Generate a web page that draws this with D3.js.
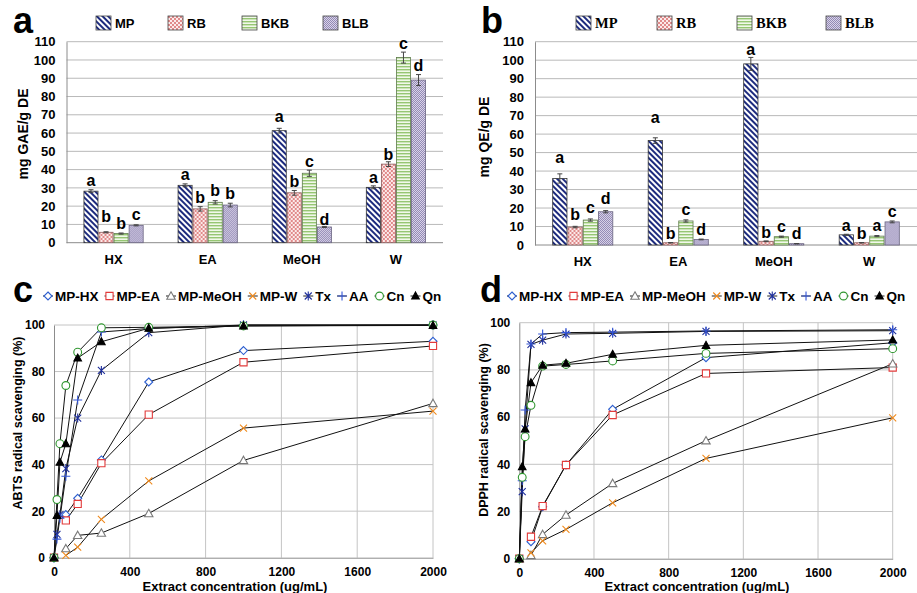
<!DOCTYPE html>
<html>
<head>
<meta charset="utf-8">
<script src="https://cdn.jsdelivr.net/npm/d3@7"></script>
<style>
  body { margin: 0; background: #fff; }
  svg { display: block; font-family: "Liberation Sans", Arial, sans-serif; }
  .tick text { font-weight: bold; }
</style>
</head>
<body>
<svg id="fig" width="917" height="593"></svg>
<script>
// ---- bar chart data (a: total phenolics, b: total flavonoids) ----
const solvents = ["HX", "EA", "MeOH", "W"];
const plants = ["MP", "RB", "BKB", "BLB"];

const gaeMP  = [28.2, 31.4, 61.3, 30.3];
const gaeRB  = [5.7, 18.5, 27.3, 43.0];
const gaeBKB = [5.0, 22.1, 38.0, 101.3];
const gaeBLB = [9.5, 20.6, 8.6, 89.0];
const gaeErrMP  = [0.8, 0.8, 1.3, 0.8];
const gaeErrRB  = [0.3, 1.2, 1.3, 1.3];
const gaeErrBKB = [0.3, 0.9, 1.7, 3.0];
const gaeErrBLB = [0.3, 1.0, 0.3, 3.0];
const gaeLetters = [["a","b","b","c"], ["a","b","b","b"], ["a","b","c","d"], ["a","b","c","d"]];
const gaeLetterAt = [[31.0, 11.5, 7.3, 12.4], [34.3, 21.5, 25.5, 23.7], [66.2, 30.7, 41.6, 9.7], [32.5, 45.3, 105.8, 94.2]];

const qeMP  = [36.0, 56.5, 98.0, 5.5];
const qeRB  = [9.7, 1.2, 2.0, 1.2];
const qeBKB = [13.5, 13.0, 4.5, 4.8];
const qeBLB = [18.0, 3.0, 0.7, 12.5];
const qeErrMP  = [2.5, 1.5, 3.5, 0.3];
const qeErrRB  = [0.4, 0.1, 0.2, 0.1];
const qeErrBKB = [0.6, 0.6, 0.3, 0.3];
const qeErrBLB = [0.6, 0.2, 0.1, 0.5];
const qeLetters = [["a","b","c","d"], ["a","b","c","d"], ["a","b","c","d"], ["a","b","a","c"]];
const qeLetterAt = [[44.2, 13.5, 17.5, 22.2], [66.2, 3.1, 16.2, 5.4], [102.8, 3.6, 7.2, 3.1], [7.6, 3.1, 7.6, 15.0]];

const barTicks = [0, 10, 20, 30, 40, 50, 60, 70, 80, 90, 100, 110];

// ---- line chart data (c: ABTS, d: DPPH) ----
const conc = [0, 15.625, 31.25, 62.5, 125, 250, 500, 1000, 2000];
const lineNames = ["MP-HX", "MP-EA", "MP-MeOH", "MP-W", "Tx", "AA", "Cn", "Qn"];

const abtsHX   = [0, null, null, 18.5, 25.5, 42.0, 75.5, 89.0, 93.0];
const abtsEA   = [0, null, null, 16.0, 23.1, 40.6, 61.5, 84.0, 91.0];
const abtsMeOH = [0, null, null, 3.9, 9.6, 10.6, 19.0, 41.8, 66.3];
const abtsW    = [0, null, null, 1.0, 4.5, 16.5, 33.0, 55.7, 63.0];
const abtsTx   = [0, 10.0, 18.5, 38.3, 60.0, 80.5, 96.7, 100, 100];
const abtsAA   = [0, 8.0, 17.0, 35.0, 67.8, 97.0, 98.5, 100, 100];
const abtsCn   = [0, 25.0, 49.0, 74.0, 88.3, 98.8, 99.0, 99.6, 100];
const abtsQn   = [0, 18.2, 41.0, 49.0, 85.8, 92.8, 98.6, 99.6, 99.8];

const dpphHX   = [0, null, null, 7.2, 22.0, 39.7, 63.3, 85.2, 91.5];
const dpphEA   = [0, null, null, 9.3, 22.3, 39.7, 60.9, 78.5, 81.0];
const dpphMeOH = [0, null, null, 1.4, 10.3, 18.5, 31.9, 50.0, 82.6];
const dpphW    = [0, null, null, 2.5, 7.6, 12.4, 23.7, 42.5, 59.7];
const dpphTx   = [0, 28.4, 55.0, 90.8, 92.6, 95.2, 95.5, 96.3, 96.6];
const dpphAA   = [0, 33.0, 63.0, 91.0, 95.2, 95.8, 96.0, 96.5, 97.0];
const dpphCn   = [0, 34.5, 51.7, 65.0, 81.6, 82.3, 83.8, 87.0, 89.0];
const dpphQn   = [0, 39.0, 55.0, 74.6, 82.0, 82.8, 86.6, 90.4, 92.7];

const xTicks = [0, 400, 800, 1200, 1600, 2000];
const yTicks = [0, 20, 40, 60, 80, 100];

const svg = d3.select("#fig");
svg.append("rect").attr("width", 917).attr("height", 593).attr("fill", "#fff");

// patterns for the bar fills
const defs = svg.append("defs");
const pMP = defs.append("pattern").attr("id", "pMP").attr("patternUnits", "userSpaceOnUse")
  .attr("width", 4).attr("height", 4).attr("patternTransform", "rotate(-45)");
pMP.append("rect").attr("width", 4).attr("height", 4).attr("fill", "#fff");
pMP.append("rect").attr("width", 2).attr("height", 4).attr("fill", "#1d2b7e");

const pRB = defs.append("pattern").attr("id", "pRB").attr("patternUnits", "userSpaceOnUse")
  .attr("width", 4).attr("height", 4);
pRB.append("rect").attr("width", 4).attr("height", 4).attr("fill", "#fbeaea");
pRB.append("rect").attr("width", 2).attr("height", 2).attr("fill", "#e08a8a");
pRB.append("rect").attr("x", 2).attr("y", 2).attr("width", 2).attr("height", 2).attr("fill", "#e08a8a");

const pBKB = defs.append("pattern").attr("id", "pBKB").attr("patternUnits", "userSpaceOnUse")
  .attr("width", 4).attr("height", 3);
pBKB.append("rect").attr("width", 4).attr("height", 3).attr("fill", "#f1f8ea");
pBKB.append("rect").attr("width", 4).attr("height", 1.4).attr("fill", "#96c673");

const pBLB = defs.append("pattern").attr("id", "pBLB").attr("patternUnits", "userSpaceOnUse")
  .attr("width", 2).attr("height", 2);
pBLB.append("rect").attr("width", 2).attr("height", 2).attr("fill", "#d9d3e8");
pBLB.append("rect").attr("width", 1).attr("height", 1).attr("fill", "#938ab5");
pBLB.append("rect").attr("x", 1).attr("y", 1).attr("width", 1).attr("height", 1).attr("fill", "#938ab5");

const fills = ["url(#pMP)", "url(#pRB)", "url(#pBKB)", "url(#pBLB)"];
const edges = ["#333", "#8a5a5a", "#5d7a4a", "#6a6480"];

//function to draw one grouped bar panel
function barPanel(o) {
  const g = svg.append("g");
  const x = d3.scaleBand().domain(solvents).range([o.x0, o.x1]).paddingInner(0.36).paddingOuter(0.18);
  const xs = d3.scaleBand().domain(plants).range([0, x.bandwidth()]);
  const y = d3.scaleLinear().domain([0, 110]).range([o.y0, o.y1]);

  // grid
  g.append("g").selectAll("line").data(barTicks.slice(1)).join("line")
    .attr("x1", o.x0).attr("x2", o.x1).attr("y1", d => y(d)).attr("y2", d => y(d))
    .attr("stroke", "#b9b9b9").attr("stroke-width", 1);

  const ax = g.append("g").attr("transform", `translate(${o.x0},0)`)
    .call(d3.axisLeft(y).tickValues(barTicks).tickSize(0).tickPadding(11));
  ax.select(".domain").attr("stroke", "#8c8c8c");
  ax.selectAll("text").attr("font-size", 13).attr("font-family", "Liberation Sans");

  const xa = g.append("g").attr("transform", `translate(0,${o.y0})`)
    .call(d3.axisBottom(x).tickSize(0).tickPadding(12));
  xa.select(".domain").attr("stroke", "#8c8c8c").attr("d", `M${o.x0},0H${o.x1}`);
  xa.selectAll("text").attr("font-size", 13).attr("font-family", "Liberation Sans");

  const rows = [];
  solvents.forEach((s, i) => {
    plants.forEach((p, j) => {
      rows.push({ s, p, j, v: o.vals[j][i], e: o.errs[j][i], l: o.letters[i][j], la: o.letterAt[i][j] });
    });
  });

  const bg = g.selectAll(".bar").data(rows).join("g").attr("class", "bar")
    .attr("transform", d => `translate(${x(d.s) + xs(d.p)},0)`);
  bg.append("rect")
    .attr("x", 0.5).attr("width", xs.bandwidth() - 1)
    .attr("y", d => y(d.v)).attr("height", d => y(0) - y(d.v))
    .attr("fill", d => fills[d.j]).attr("stroke", d => edges[d.j]).attr("stroke-width", 0.8);

  const cx = xs.bandwidth() / 2;
  bg.append("path")
    .attr("d", d => `M${cx},${y(d.v + d.e)}V${y(d.v - d.e)}M${cx - 2.5},${y(d.v + d.e)}h5M${cx - 2.5},${y(d.v - d.e)}h5`)
    .attr("stroke", "#444").attr("stroke-width", 1).attr("fill", "none");
  bg.append("text")
    .attr("x", cx).attr("y", d => y(d.la))
    .attr("text-anchor", "middle").attr("font-weight", "bold").attr("font-size", 16)
    .text(d => d.l);

  // y label
  svg.append("text")
    .attr("transform", `translate(${o.ylx},${o.yly}) rotate(-90)`)
    .attr("text-anchor", "middle").attr("font-weight", "bold").attr("font-size", 14)
    .text(o.ylabel);

  // panel letter
  svg.append("text").attr("x", o.px).attr("y", 33)
    .attr("font-weight", "bold").attr("font-size", 36).text(o.panel);

  // legend
  const lg = svg.append("g");
  plants.forEach((p, j) => {
    lg.append("rect").attr("x", o.legX[j]).attr("y", 16).attr("width", 15).attr("height", 14)
      .attr("fill", fills[j]).attr("stroke", "#444").attr("stroke-width", 0.8);
    lg.append("text").attr("x", o.legX[j] + 19).attr("y", 28)
      .attr("font-family", o.legFont).attr("font-weight", "bold").attr("font-size", o.legSize)
      .text(p);
  });
}

barPanel({
  x0: 66.5, x1: 443, y0: 242.7, y1: 41.7,
  vals: [gaeMP, gaeRB, gaeBKB, gaeBLB],
  errs: [gaeErrMP, gaeErrRB, gaeErrBKB, gaeErrBLB],
  letters: gaeLetters, letterAt: gaeLetterAt,
  ylabel: "mg GAE/g DE", ylx: 28, yly: 134,
  panel: "a", px: 13,
  legX: [96, 168, 242, 323], legFont: "Liberation Sans", legSize: 13
});

barPanel({
  x0: 535, x1: 917, y0: 245, y1: 41.7,
  vals: [qeMP, qeRB, qeBKB, qeBLB],
  errs: [qeErrMP, qeErrRB, qeErrBKB, qeErrBLB],
  letters: qeLetters, letterAt: qeLetterAt,
  ylabel: "mg QE/g DE", ylx: 489, yly: 137,
  panel: "b", px: 481,
  legX: [576, 657, 737, 826], legFont: "Liberation Serif", legSize: 14.5
});

// ---- marker shapes for line charts ----
const markers = [
  { stroke: "#2d5fd0", fill: "#fff", d: "M0,-4L4,0L0,4L-4,0Z" },                 // MP-HX diamond
  { stroke: "#e23b3b", fill: "#fff", d: "M-3.6,-3.6H3.6V3.6H-3.6Z" },            // MP-EA square
  { stroke: "#7a7a7a", fill: "#fff", d: "M0,-4.2L4.2,3.2H-4.2Z" },               // MP-MeOH triangle
  { stroke: "#f08a1c", fill: "none", d: "M-3.5,-3.5L3.5,3.5M-3.5,3.5L3.5,-3.5" }, // MP-W cross
  { stroke: "#1f2f9c", fill: "none", d: "M-3.5,-3.5L3.5,3.5M-3.5,3.5L3.5,-3.5M0,-4.5V4.5" }, // Tx asterisk
  { stroke: "#3457d8", fill: "none", d: "M-4.5,0H4.5M0,-4.5V4.5" },              // AA plus
  { stroke: "#2f962f", fill: "#fff", d: d3.symbol(d3.symbolCircle, 48)() },     // Cn circle
  { stroke: "#000", fill: "#000", d: "M0,-4L3.8,3H-3.8Z" }                      // Qn filled triangle
];

//function to draw one dose-response panel
function linePanel(o) {
  const g = svg.append("g");
  const x = d3.scaleLinear().domain([0, 2000]).range([o.x0, o.x1]);
  const y = d3.scaleLinear().domain([0, 100]).range([o.y0, o.y1]);

  g.append("g").selectAll("line").data(xTicks.slice(1)).join("line")
    .attr("x1", d => x(d)).attr("x2", d => x(d)).attr("y1", o.y0).attr("y2", o.y1)
    .attr("stroke", "#c4c4c4");
  g.append("g").selectAll("line").data(yTicks.slice(1)).join("line")
    .attr("x1", o.x0).attr("x2", o.x1).attr("y1", d => y(d)).attr("y2", d => y(d))
    .attr("stroke", "#c4c4c4");

  const ya = g.append("g").attr("transform", `translate(${o.x0},0)`)
    .call(d3.axisLeft(y).tickValues(yTicks).tickSize(0).tickPadding(9));
  ya.select(".domain").attr("stroke", "#8c8c8c");
  ya.selectAll("text").attr("font-size", 12).attr("font-family", "Liberation Sans");
  const xa = g.append("g").attr("transform", `translate(0,${o.y0})`)
    .call(d3.axisBottom(x).tickValues(xTicks).tickFormat(d3.format("d")).tickSize(0).tickPadding(10));
  xa.select(".domain").attr("stroke", "#8c8c8c");
  xa.selectAll("text").attr("font-size", 12).attr("font-family", "Liberation Sans");

  const line = d3.line().defined(d => d[1] != null).x(d => x(d[0])).y(d => y(d[1]));
  const series = o.series.map((vals, i) => ({ i, pts: conc.map((c, k) => [c, vals[k]]) }));

  g.append("g").selectAll("path").data(series).join("path")
    .attr("d", s => line(s.pts)).attr("fill", "none").attr("stroke", "#111").attr("stroke-width", 1);

  series.forEach(s => {
    g.append("g").selectAll("path").data(s.pts.filter(p => p[1] != null)).join("path")
      .attr("transform", p => `translate(${x(p[0])},${y(p[1])})`)
      .attr("d", markers[s.i].d).attr("fill", markers[s.i].fill)
      .attr("stroke", markers[s.i].stroke).attr("stroke-width", 1.1);
  });

  svg.append("text")
    .attr("transform", `translate(${o.ylx},${o.yly}) rotate(-90)`)
    .attr("text-anchor", "middle").attr("font-weight", "bold").attr("font-size", 12.5)
    .text(o.ylabel);
  svg.append("text").attr("x", o.xlx).attr("y", 591)
    .attr("text-anchor", "middle").attr("font-weight", "bold").attr("font-size", 13)
    .text("Extract concentration (ug/mL)");

  svg.append("text").attr("x", o.px).attr("y", 302)
    .attr("font-weight", "bold").attr("font-size", 36).text(o.panel);

  // legend laid out one item after another
  let lx = o.legX;
  lineNames.forEach((n, i) => {
    svg.append("path").attr("d", `M${lx - 5},296H${lx + 5}`).attr("stroke", "#222").attr("stroke-width", 1);
    svg.append("path").attr("transform", `translate(${lx},296)`)
      .attr("d", markers[i].d).attr("fill", markers[i].fill)
      .attr("stroke", markers[i].stroke).attr("stroke-width", 1.1);
    const t = svg.append("text").attr("x", lx + 7).attr("y", 301)
      .attr("font-weight", "bold").attr("font-size", 13.5).text(n);
    lx = lx + 7 + t.node().getComputedTextLength() + o.legGap;
  });
}

linePanel({
  x0: 54, x1: 433, y0: 557.7, y1: 325,
  series: [abtsHX, abtsEA, abtsMeOH, abtsW, abtsTx, abtsAA, abtsCn, abtsQn],
  ylabel: "ABTS radical scavenging (%)", ylx: 22, yly: 423, xlx: 235,
  panel: "c", px: 13, legX: 48, legGap: 11
});

linePanel({
  x0: 519.3, x1: 892.7, y0: 558.7, y1: 322.7,
  series: [dpphHX, dpphEA, dpphMeOH, dpphW, dpphTx, dpphAA, dpphCn, dpphQn],
  ylabel: "DPPH radical scavenging (%)", ylx: 488, yly: 430, xlx: 697,
  panel: "d", px: 480, legX: 512, legGap: 11
});
</script>
</body>
</html>
